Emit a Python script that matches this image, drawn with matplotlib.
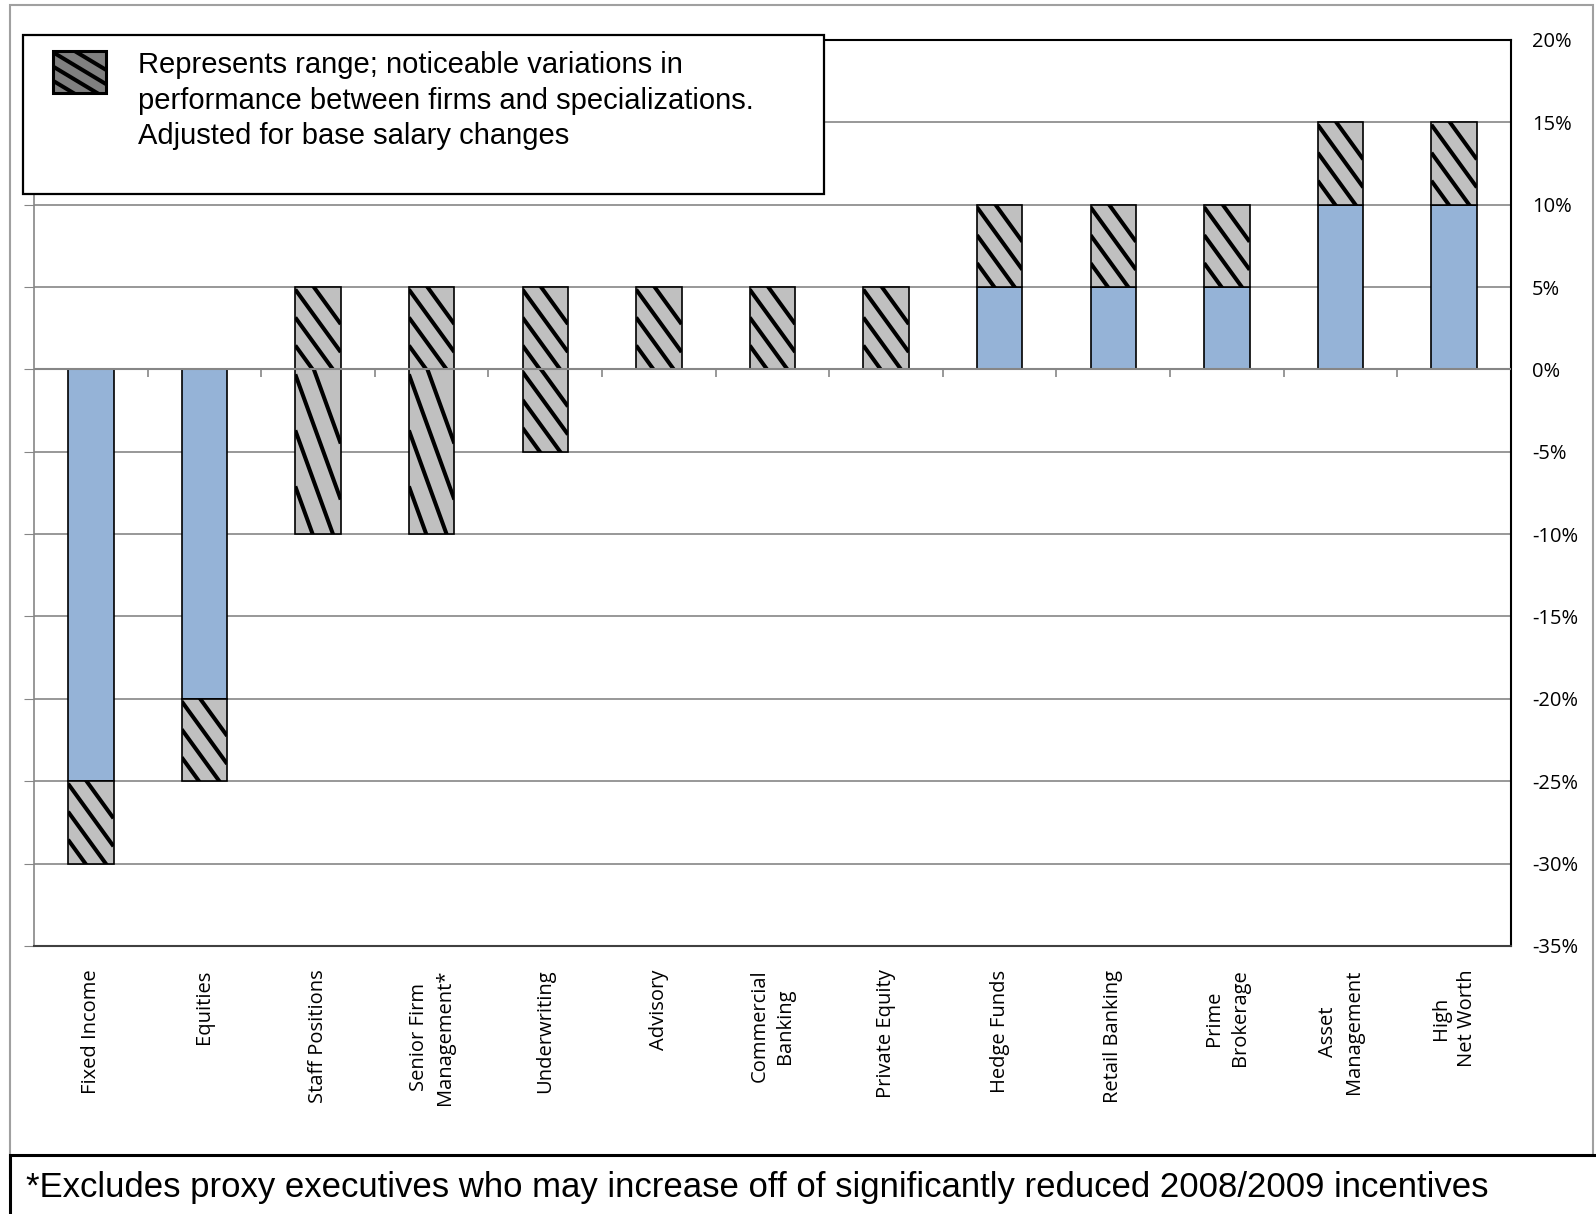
import numpy as np
import matplotlib.pyplot as plt
from matplotlib.patches import Rectangle
from matplotlib.lines import Line2D
from matplotlib.markers import TICKDOWN

# categories and values (%)
categories = ['Fixed Income', 'Equities', 'Staff Positions', 'Senior Firm\nManagement*',
              'Underwriting', 'Advisory', 'Commercial\nBanking', 'Private Equity',
              'Hedge Funds', 'Retail Banking', 'Prime\nBrokerage', 'Asset\nManagement',
              'High\nNet Worth']
base_change = [-25, -20, 0, 0, 0, 0, 0, 0, 5, 5, 5, 10, 10]
range_low = [-30, -25, -10, -10, -5, 0, 0, 0, 5, 5, 5, 10, 10]
range_high = [-25, -20, 5, 5, 5, 5, 5, 5, 10, 10, 10, 15, 15]
y_ticks = [20, 15, 10, 5, 0, -5, -10, -15, -20, -25, -30, -35]

legend_text = ('Represents range; noticeable variations in\n'
               'performance between firms and specializations.\n'
               'Adjusted for base salary changes')
footnote = '*Excludes proxy executives who may increase off of significantly reduced 2008/2009 incentives'

blue = '#95B3D7'
range_grey = '#C0C0C0'
grid_grey = '#868686'

# stripe fill, stretched to each box (slope and offsets in box-relative units)
STRIPE_SLOPE = 0.76
STRIPE_OFFSETS = [-0.31, 0.03, 0.37, 0.71]


def add_stripes(container, patch, x0, y_top, w, h, transform, zorder):
    for b in STRIPE_OFFSETS:
        ln = Line2D([x0, x0 + w], [y_top - b * h, y_top - (STRIPE_SLOPE + b) * h],
                    transform=transform, color='black', linewidth=2.9,
                    solid_capstyle='butt', zorder=zorder)
        container.add_artist(ln)
        # clip after adding, otherwise add_artist swaps in the axes patch
        ln.set_clip_path(patch)


fig = plt.figure(figsize=(15.96, 12.14), dpi=100)
ax = fig.add_axes([0.0213, 0.2208, 0.9254, 0.7463])

x = np.arange(len(categories))
low = np.array(range_low)
high = np.array(range_high)

# blue bars: base change
ax.bar(x, base_change, width=0.4, color=blue, edgecolor='black', linewidth=1.2, zorder=2)

# grey range boxes, split at zero where the range crosses it
upper_bottom = np.maximum(low, 0)
upper_h = np.where(high > 0, high - upper_bottom, 0)
lower_top = np.minimum(high, 0)
lower_h = np.where(low < 0, lower_top - low, 0)
for b, h in [(upper_bottom, upper_h), (low, lower_h)]:
    m = h > 0
    bars = ax.bar(x[m], h[m], bottom=b[m], width=0.4, color=range_grey,
                  edgecolor='black', linewidth=1.2, zorder=2)
    for bar in bars:
        add_stripes(ax, bar, bar.get_x(), bar.get_y() + bar.get_height(),
                    bar.get_width(), bar.get_height(), ax.transData, 2.5)

ax.set_xlim(-0.5, len(categories) - 0.5)
ax.set_ylim(-35, 20)
ax.set_yticks(y_ticks)
ax.set_yticklabels([f'{v}%' for v in y_ticks], fontsize=14.5, family='Open Sans')
ax.tick_params(axis='y', left=True, right=False, labelleft=False, labelright=True,
               length=7, color=grid_grey, pad=8)
ax.yaxis.grid(True, color=grid_grey, linewidth=1.2, zorder=0)
ax.set_axisbelow(True)

ax.set_xticks(x)
ax.set_xticklabels(categories, rotation=90, va='top', ha='center',
                   multialignment='center', fontsize=14.5, family='Open Sans',
                   linespacing=1.4)
ax.tick_params(axis='x', length=0, pad=17)

# horizontal axis at zero with category separator ticks
ax.axhline(0, color=grid_grey, linewidth=1.5, zorder=3)
ax.plot(x[:-1] + 0.5, np.zeros(len(x) - 1), linestyle='none', marker=TICKDOWN,
        markersize=6, markeredgewidth=1.2, color=grid_grey, zorder=3, clip_on=False)

ax.spines['left'].set_color(grid_grey)
ax.spines['left'].set_linewidth(1.2)
ax.spines['bottom'].set_color('#404040')
ax.spines['bottom'].set_linewidth(1.5)
ax.spines['right'].set_color('black')
ax.spines['right'].set_linewidth(1.5)
ax.spines['top'].set_color('black')
ax.spines['top'].set_linewidth(1.5)

# outer chart frame
fig.patches.append(Rectangle((0.0063, 0.03), 0.992, 0.966, transform=fig.transFigure,
                             fill=False, edgecolor='#A0A0A0', linewidth=1.5, zorder=0))

# legend box
fig.patches.append(Rectangle((0.0147, 0.840), 0.5016, 0.1315, transform=fig.transFigure,
                             facecolor='white', edgecolor='black', linewidth=1.6, zorder=5))
key = Rectangle((0.0332, 0.9235), 0.0332, 0.0345, transform=fig.transFigure,
                facecolor='#808080', edgecolor='black', linewidth=2.2, zorder=6)
fig.patches.append(key)
add_stripes(fig, key, 0.0332, 0.9235 + 0.0345, 0.0332, 0.0345, fig.transFigure, 6.5)
fig.text(0.0862, 0.917, legend_text, fontsize=21, family='Liberation Sans',
         va='center', ha='left', linespacing=1.34, zorder=7)

# footnote box
fig.patches.append(Rectangle((0.0063, -0.02), 1.0, 0.0686, transform=fig.transFigure,
                             facecolor='white', edgecolor='black', linewidth=2.2, zorder=5))
fig.text(0.016, 0.0215, footnote, fontsize=25, family='Liberation Sans',
         va='center', ha='left', zorder=7)

fig.savefig('out.png', dpi=100)
